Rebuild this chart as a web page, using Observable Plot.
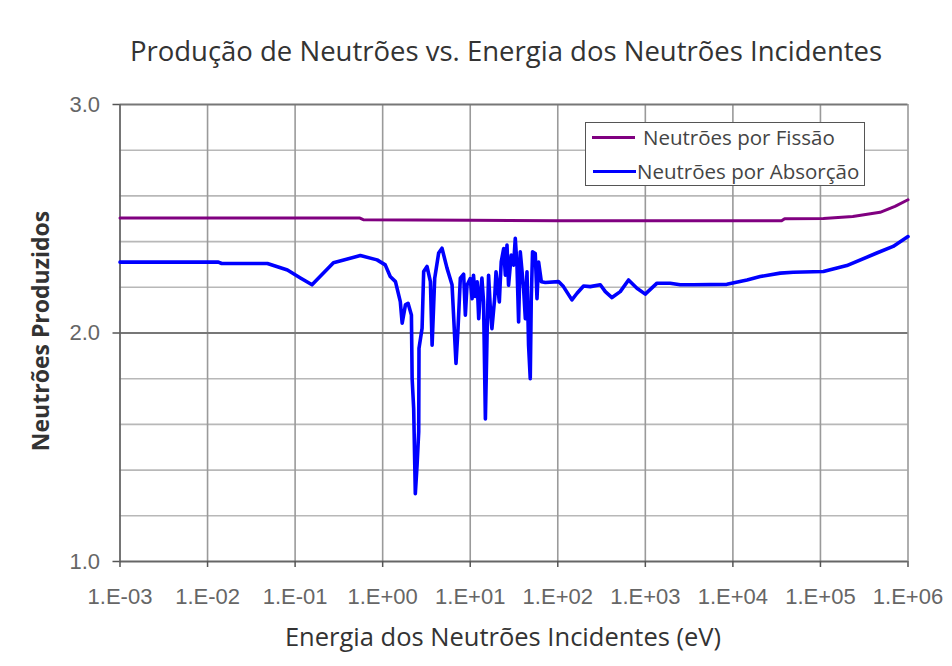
<!DOCTYPE html>
<html>
<head>
<meta charset="utf-8">
<script src="https://cdn.jsdelivr.net/npm/d3@7"></script>
<script src="https://cdn.jsdelivr.net/npm/@observablehq/plot@0.6"></script>
<style>
  html, body { margin: 0; padding: 0; background: #fff; }
  #wrap { position: relative; width: 952px; height: 666px; }
  #legend { position: absolute; left: 585px; top: 122px; width: 280px; height: 64px;
    border: 1.5px solid #555; background: #fff; box-sizing: border-box;
    font-family: "Open Sans", sans-serif; font-size: 20.5px; color: #444; }
  .row { position: absolute; left: 0; height: 0; }
  .sw { position: absolute; width: 43px; height: 3.5px; margin-top: -1.75px; }
  .lab { position: absolute; white-space: nowrap; line-height: 1; transform: translateY(-55%); }
</style>
</head>
<body>
<div id="wrap"></div>
<script>
// ---- data ----
const titleText = "Produção de Neutrões vs. Energia dos Neutrões Incidentes";
const xTitle = "Energia dos Neutrões Incidentes (eV)";
const yTitle = "Neutrões Produzidos";
const seriesNames = ["Neutrões por Fissão", "Neutrões por Absorção"];
const seriesColors = ["#800080", "#0000ff"];

const xTicks = [1e-3, 1e-2, 1e-1, 1e0, 1e1, 1e2, 1e3, 1e4, 1e5, 1e6];
const xTickLabels = ["1.E-03","1.E-02","1.E-01","1.E+00","1.E+01","1.E+02","1.E+03","1.E+04","1.E+05","1.E+06"];
const yMajor = [1.0, 2.0, 3.0];
const yMinor = [1.2, 1.4, 1.6, 1.8, 2.2, 2.4, 2.6, 2.8];

const fissionE = [0.001, 0.55, 0.6, 10, 100, 36000, 39000, 108000, 234000, 480000, 710000, 1000000];
const fissionV = [2.503, 2.503, 2.496, 2.493, 2.491, 2.491, 2.500, 2.501, 2.510, 2.528, 2.554, 2.583];

const absorptionE = [0.001, 0.0133, 0.0145, 0.0483, 0.0817, 0.115, 0.156, 0.274, 0.556, 0.863,
  1.07, 1.22, 1.40, 1.59, 1.67, 1.82, 1.95, 2.13, 2.17, 2.26, 2.36, 2.47, 2.58, 2.60, 2.82, 2.94,
  3.21, 3.51, 3.67, 3.93, 4.36, 4.76, 5.43, 6.20, 6.88, 7.26, 7.71, 8.41, 8.80, 9.19,
  10.0, 10.5, 10.9, 11.4, 12.0, 12.5, 13.0, 13.6, 14.2, 14.9, 15.6, 16.2, 16.9, 17.7, 19.0, 19.7, 21.5, 22.0, 22.6,
  24.1, 25.2, 26.3, 27.4, 29.4, 31.3, 32.7, 34.2, 35.7, 37.3, 40.7, 42.6, 44.5, 46.4, 48.5,
  49.8, 51.5, 55.3, 57.9, 60.4, 64.9, 72.0, 102, 116, 145, 166, 197, 235, 306, 349, 416, 517,
  643, 802, 998, 1360, 1920, 2500, 3520, 8540, 14500, 20500, 34700, 48800, 108000, 200000,
  440000, 676000, 1000000];
const absorptionV = [2.310, 2.310, 2.304, 2.304, 2.276, 2.241, 2.211, 2.307, 2.339, 2.320,
  2.298, 2.247, 2.225, 2.137, 2.043, 2.123, 2.130, 2.079, 1.801, 1.670, 1.297, 1.421, 1.567, 1.933, 2.021, 2.269,
  2.291, 2.225, 1.947, 2.240, 2.350, 2.371, 2.284, 2.211, 1.867, 2.021, 2.240, 2.257, 2.078, 2.209,
  2.238, 2.150, 2.253, 2.160, 2.224, 2.063, 2.165, 2.240, 2.136, 1.624, 2.004, 2.253, 2.120, 2.019, 2.150, 2.268, 2.136, 2.220, 2.311,
  2.370, 2.253, 2.385, 2.209, 2.341, 2.297, 2.414, 2.297, 2.048, 2.355, 2.194, 2.063, 2.268, 1.946, 1.800,
  2.150, 2.355, 2.348, 2.150, 2.311, 2.224, 2.221, 2.225, 2.203, 2.145, 2.174, 2.206, 2.203, 2.211, 2.181, 2.155, 2.181,
  2.232, 2.196, 2.170, 2.218, 2.218, 2.211, 2.211, 2.213, 2.232, 2.247, 2.262, 2.266, 2.269, 2.295,
  2.350, 2.379, 2.422];

// ---- build tables ----
const fission = fissionE.map((e, i) => ({e, v: fissionV[i]}));
const absorption = absorptionE.map((e, i) => ({e, v: absorptionV[i]}));
const labelOf = new Map(xTicks.map((t, i) => [t, xTickLabels[i]]));

const sans = "'Liberation Sans', Arial, sans-serif";
const open = "'Open Sans', sans-serif";

const chart = Plot.plot({
  width: 952,
  height: 666,
  marginLeft: 119.5,
  marginRight: 44.5,
  marginTop: 104,
  marginBottom: 105,
  style: {background: "#fff", fontFamily: sans, overflow: "visible"},
  x: {type: "log", domain: [1e-3, 1e6], axis: null},
  y: {domain: [1, 3], axis: null},
  marks: [
    Plot.ruleY(yMinor, {stroke: "#b8b8b8", strokeWidth: 1.6}),
    Plot.ruleX(xTicks.slice(1), {stroke: "#9a9a9a", strokeWidth: 1.6}),
    Plot.ruleY([2, 3], {stroke: "#777", strokeWidth: 2}),
    Plot.ruleY([1], {stroke: "#666", strokeWidth: 1.8}),
    Plot.ruleX([1e-3], {stroke: "#666", strokeWidth: 1.8}),
    Plot.line(fission, {x: "e", y: "v", stroke: seriesColors[0], strokeWidth: 3}),
    Plot.line(absorption, {x: "e", y: "v", stroke: seriesColors[1], strokeWidth: 3.6, strokeLinejoin: "round"}),
    Plot.axisX({ticks: xTicks, tickSize: 6, text: null, label: null, stroke: "#555", strokeWidth: 1.5}),
    Plot.axisX({ticks: xTicks, tickSize: 0, tickPadding: 27, label: null, tickFormat: d => labelOf.get(d),
      fontSize: 22, fill: "#666", fontFamily: sans}),
    Plot.axisY({ticks: yMajor, tickSize: 7, text: null, label: null, stroke: "#555", strokeWidth: 1.5}),
    Plot.axisY({ticks: yMajor, tickSize: 0, tickPadding: 20, label: null, tickFormat: d => d.toFixed(1),
      fontSize: 22, fill: "#666", fontFamily: sans}),
    Plot.text([titleText], {frameAnchor: "top", dy: -52, dx: -8, lineAnchor: "middle", textAnchor: "middle",
      fontSize: 27.5, fill: "#333", fontFamily: open}),
    Plot.text([xTitle], {frameAnchor: "bottom", dy: 76, dx: -11, lineAnchor: "middle", textAnchor: "middle",
      fontSize: 25.5, fill: "#333", fontFamily: open}),
    Plot.text([yTitle], {frameAnchor: "left", dx: -78.5, dy: -2, rotate: -90, lineAnchor: "middle", textAnchor: "middle",
      fontSize: 23, fontWeight: "bold", fill: "#333", fontFamily: open})
  ]
});

const wrap = document.getElementById("wrap");
wrap.appendChild(chart);

// legend (HTML overlay inside plot area)
const legend = document.createElement("div");
legend.id = "legend";
const rows = [{y: 14.5, sx: 6, tx: 57}, {y: 48.5, sx: 7, tx: 51}];
seriesNames.forEach((name, i) => {
  const row = document.createElement("div");
  row.className = "row";
  row.style.top = rows[i].y + "px";
  const sw = document.createElement("div");
  sw.className = "sw";
  sw.style.left = rows[i].sx + "px";
  sw.style.background = seriesColors[i];
  const lab = document.createElement("div");
  lab.className = "lab";
  lab.style.left = rows[i].tx + "px";
  lab.textContent = name;
  row.appendChild(sw);
  row.appendChild(lab);
  legend.appendChild(row);
});
wrap.appendChild(legend);
</script>
</body>
</html>
